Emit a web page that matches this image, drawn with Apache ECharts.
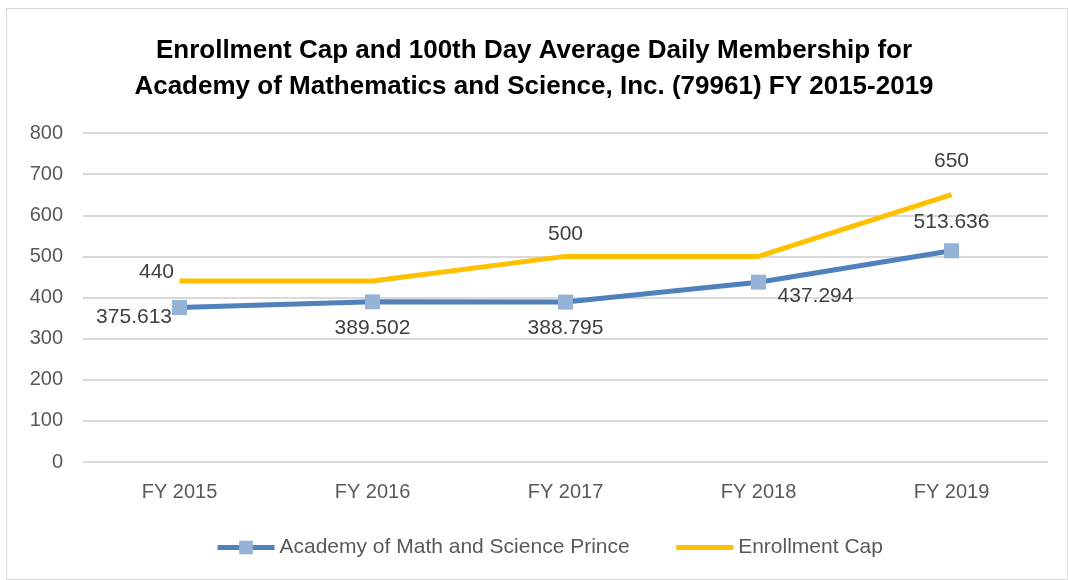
<!DOCTYPE html>
<html>
<head>
<meta charset="utf-8">
<script src="https://cdn.jsdelivr.net/npm/echarts@6/dist/echarts.min.js"></script>
<style>
html,body{margin:0;padding:0;background:#fff;}
#frame{position:absolute;left:6px;top:8px;width:1062px;height:572px;border:1px solid #d9d9d9;box-sizing:border-box;}
#main{position:absolute;left:0;top:0;width:1068px;height:580px;}
</style>
</head>
<body>
<div id="frame"></div>
<div id="main"></div>
<script>
var years = ['FY 2015','FY 2016','FY 2017','FY 2018','FY 2019']
var adm = [375.613, 389.502, 388.795, 437.294, 513.636]
var cap = [440, 440, 500, 500, 650]
var capShowLabel = [true, false, true, false, true]

var font = "'Liberation Sans', sans-serif"
var chart = echarts.init(document.getElementById('main'))

// label placement per point, tuned to the reference
var admLabels = [
  {position:'left',distance:0,offset:[0,10]},
  {position:'bottom',distance:8},
  {position:'bottom',distance:8},
  {position:'bottom',distance:0,offset:[57,-4]},
  {position:'top',distance:11}
]
var capLabels = [
  {position:'left',distance:5,offset:[0,-9]},
  {},
  {position:'top',distance:11},
  {},
  {position:'top',distance:22}
]

chart.setOption({
  animation:false,
  title:{
    text:'Enrollment Cap and 100th Day Average Daily Membership for\nAcademy of Mathematics and Science, Inc. (79961) FY 2015-2019',
    left:'center',
    top:28,
    textStyle:{fontFamily:font,fontSize:26,fontWeight:'bold',color:'#000',lineHeight:36}
  },
  legend:{
    bottom:17,
    left:210,
    itemGap:44,
    itemWidth:57,
    itemHeight:17,
    lineStyle:{width:5},
    textStyle:{fontFamily:font,fontSize:21,color:'#595959'},
    data:[
      {name:'Academy of Math and Science Prince'},
      {name:'Enrollment Cap'}
    ]
  },
  grid:{left:83,right:20,top:133,bottom:118},
  xAxis:{
    type:'category',
    data:years,
    boundaryGap:true,
    axisLine:{lineStyle:{color:'#d9d9d9',width:1}},
    axisTick:{show:false},
    axisLabel:{fontFamily:font,fontSize:20,color:'#595959',margin:20}
  },
  yAxis:{
    type:'value',
    min:0,max:800,interval:100,
    axisLine:{show:false},
    axisTick:{show:false},
    splitLine:{lineStyle:{color:'#d9d9d9',width:2}},
    axisLabel:{fontFamily:font,fontSize:20,color:'#595959',margin:20}
  },
  series:[
    {
      name:'Academy of Math and Science Prince',
      type:'line',
      data:adm.map(function(v,i){
        return {value:v,label:Object.assign({show:true},admLabels[i])}
      }),
      symbol:'rect',
      symbolSize:15,
      lineStyle:{color:'#4f81bd',width:5},
      itemStyle:{color:'#95b3d7',borderWidth:0},
      label:{fontFamily:font,fontSize:21,color:'#404040',formatter:function(p){return p.value}},
      z:3
    },
    {
      name:'Enrollment Cap',
      type:'line',
      data:cap.map(function(v,i){
        return {value:v,label:Object.assign({show:capShowLabel[i]},capLabels[i])}
      }),
      symbol:'circle',
      symbolSize:1,
      lineStyle:{color:'#ffc000',width:5},
      itemStyle:{color:'rgba(0,0,0,0)'},
      label:{fontFamily:font,fontSize:21,color:'#404040'},
      z:2
    }
  ]
})
</script>
</body>
</html>
